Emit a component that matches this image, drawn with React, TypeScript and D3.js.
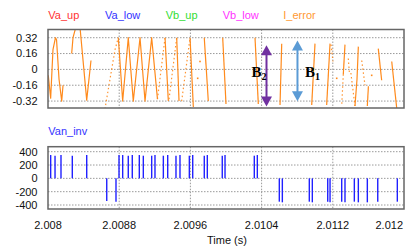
import React from "react";
import * as d3 from "d3";

const legendNames = ["Va_up", "Va_low", "Vb_up", "Vb_low", "I_error"];
const legendColors = ["#ff3333", "#3333ff", "#33dd33", "#ff33ff", "#ff9933"];

const xTicks = [2.008, 2.0088, 2.0096, 2.0104, 2.0112, 2.012];
const xTickLabels = ["2.008", "2.0088", "2.0096", "2.0104", "2.0112", "2.012"];
const topTicks = [0.32, 0.16, 0, -0.16, -0.32];
const topTickLabels = ["0.32", "0.16", "0", "-0.16", "-0.32"];
const botTicks = [400, 200, 0, -200, -400];
const botTickLabels = ["400", "200", "0", "-200", "-400"];

// I_error trace, solid parts: [time, value]
const errSolid: [number, number][][] = [
  [[2.008003, -0.06], [2.00803, -0.29], [2.008056, 0.2], [2.008084, 0.32], [2.008096, 0.3], [2.008124, -0.1], [2.008154, -0.32], [2.008169, -0.16]],
  [[2.008266, 0.16], [2.008281, 0.32], [2.008311, 0.42]],
  [[2.00836, 0.42], [2.008435, -0.31], [2.008483, 0.09]],
  [[2.00879, 0.32], [2.008839, -0.32], [2.008902, 0.32], [2.008958, -0.32], [2.009034, 0.32], [2.00909, -0.32], [2.009165, 0.32], [2.00923, -0.3]],
  [[2.009315, 0.32], [2.009352, -0.32]],
  [[2.009446, 0.32], [2.009472, -0.32]],
  [[2.009596, 0.32], [2.009633, -0.38]],
  [[2.009756, 0.32], [2.009801, -0.32]],
  [[2.009963, 0.32], [2.01, -0.35]],
  [[2.010326, 0.32], [2.010363, -0.35]],
  [[2.010626, 0.26], [2.010607, -0.36]],
  [[2.011, 0.26], [2.010963, -0.36]],
  [[2.011169, 0.26], [2.011131, -0.36]],
  [[2.011337, 0.25], [2.011318, -0.05]],
  [[2.011487, 0.23], [2.011472, -0.1], [2.011449, -0.37]],
  [[2.0116, -0.17], [2.011588, -0.37]],
  [[2.011711, 0.21], [2.011749, -0.11]],
  [[2.011862, 0.08], [2.011918, -0.39]],
];

// I_error trace, dotted parts
const errDotted: [number, number][][] = [
  [[2.00864, -0.4], [2.008753, 0.2], [2.00879, 0.32]],
  [[2.00923, -0.3], [2.009315, 0.32]],
  [[2.00936, -0.3], [2.009446, 0.32]],
  [[2.009502, -0.32], [2.009596, 0.32]],
  [[2.01118, 0.25], [2.011202, 0.08]],
  [[2.011318, -0.05], [2.0113, -0.37]],
  [[2.011374, 0.11], [2.011385, -0.02], [2.011401, -0.02], [2.011449, -0.37]],
  [[2.011525, 0.09], [2.011562, -0.16]],
];

const errDots: [number, number][] = [
  [2.009682, -0.09], [2.009708, 0.08], [2.011244, -0.09], [2.011637, -0.06],
];

// Van_inv pulses
const pulseTimes = [
  2.00803, 2.008079, 2.008146, 2.008273, 2.008435, 2.00866, 2.008764,
  2.008798, 2.008839, 2.008902, 2.008947, 2.009026, 2.009071, 2.009165, 2.009202,
  2.009296, 2.009345, 2.009438, 2.009483, 2.009588, 2.009626, 2.009756, 2.00979,
  2.009958, 2.009989, 2.010318, 2.010352, 2.010599, 2.010633, 2.010936, 2.01097,
  2.011143, 2.011169, 2.0113, 2.011337, 2.011442, 2.011487, 2.011588, 2.011705, 2.011925,
];
const pulseValues = [
  350, 340, 350, 340, 350, -340, -350,
  350, 350, 340, 350, 350, 340, 340, 350,
  340, 350, 340, 350, 340, 350, 340, 350,
  340, 350, 340, 350, -350, -360, -350, -360,
  -350, -360, -350, -360, -350, -360, -360, -350, -350,
];

// Annotations
const arrowNames = ["B", "B"];
const arrowSubs = ["2", "1"];
const arrowTimes = [2.010455, 2.010803];
const arrowFrom = [-0.375, -0.323];
const arrowTo = [0.245, 0.293];
const arrowColors = ["#7030a0", "#5b9bd5"];

const FONT = "'Liberation Sans', Arial, sans-serif";

export default function App() {
  const x = d3.scaleLinear().domain([2.008, 2.012]).range([48, 404]);
  const yT = d3.scaleLinear().domain([-0.39, 0.403]).range([108, 29.5]);
  const yB = d3.scaleLinear().domain([-460, 475]).range([209, 146.7]);
  const lineT = d3.line<[number, number]>().x((d) => x(d[0])).y((d) => yT(d[1]));

  const gridStyle = { stroke: "#9a9a9a", strokeWidth: 1, strokeDasharray: "1.5,1.5" };

  return (
    <svg width={406} height={248} style={{ position: "absolute", left: 0, top: 0, background: "#fff" }} fontFamily={FONT}>
      <defs>
        <clipPath id="clipT">
          <rect x={48} y={29.5} width={356} height={78.5} />
        </clipPath>
      </defs>
      {legendNames.map((n, i) => (
        <text key={n} x={[48.3, 105, 165.7, 222.7, 283.3][i]} y={19} fontSize={11} fill={legendColors[i]}>{n}</text>
      ))}
      {/* top grid */}
      {topTicks.map((t) => (
        <line key={"gt" + t} x1={48} x2={404} y1={yT(t)} y2={yT(t)} {...gridStyle} />
      ))}
      {xTicks.slice(1, -1).map((t) => (
        <line key={"gxt" + t} x1={x(t)} x2={x(t)} y1={29.5} y2={108} {...gridStyle} />
      ))}
      {topTicks.map((t, i) => (
        <text key={"lt" + t} x={37.5} y={yT(t)} dy="0.35em" textAnchor="end" fontSize={11} fill="#111">{topTickLabels[i]}</text>
      ))}
      <g clipPath="url(#clipT)" fill="none" stroke="#ff8a1c" strokeWidth={1.2} strokeLinejoin="round">
        {errSolid.map((s, i) => (
          <path key={"s" + i} d={lineT(s) || ""} />
        ))}
        {errDotted.map((s, i) => (
          <path key={"d" + i} d={lineT(s) || ""} strokeDasharray="1.5,2.5" opacity={0.9} />
        ))}
        {errDots.map((p, i) => (
          <rect key={"p" + i} x={x(p[0]) - 0.8} y={yT(p[1]) - 0.8} width={1.6} height={1.6} fill="#ff8a1c" stroke="none" />
        ))}
      </g>
      {/* arrows */}
      {arrowTimes.map((t, i) => {
        const ax = x(t);
        const y1 = yT(arrowFrom[i]);
        const y2 = yT(arrowTo[i]);
        const c = arrowColors[i];
        return (
          <g key={"a" + i}>
            <line x1={ax} x2={ax} y1={y2 + 8} y2={y1 - 8} stroke={c} strokeWidth={2} />
            <polygon points={`${ax},${y2} ${ax - 5.5},${y2 + 10} ${ax + 5.5},${y2 + 10}`} fill={c} />
            <polygon points={`${ax},${y1} ${ax - 5.5},${y1 - 10} ${ax + 5.5},${y1 - 10}`} fill={c} />
          </g>
        );
      })}
      <text x={x(arrowTimes[0]) - 15} y={76.5} fontSize={15} fontWeight="bold" fontFamily="'Liberation Serif', 'Times New Roman', serif" fill="#000">
        {arrowNames[0]}<tspan fontSize={10} dy={3}>{arrowSubs[0]}</tspan>
      </text>
      <text x={x(arrowTimes[1]) + 7.5} y={76.5} fontSize={15} fontWeight="bold" fontFamily="'Liberation Serif', 'Times New Roman', serif" fill="#000">
        {arrowNames[1]}<tspan fontSize={10} dy={3}>{arrowSubs[1]}</tspan>
      </text>
      <rect x={48} y={29.5} width={356} height={78.5} fill="none" stroke="#666" strokeWidth={1.5} />

      {/* bottom panel */}
      <text x={48.3} y={135} fontSize={11} fill="#3333ff">Van_inv</text>
      {botTicks.map((t) => (
        <line key={"gb" + t} x1={48} x2={404} y1={yB(t)} y2={yB(t)} {...gridStyle} />
      ))}
      {xTicks.slice(1, -1).map((t) => (
        <line key={"gxb" + t} x1={x(t)} x2={x(t)} y1={146.7} y2={209} {...gridStyle} />
      ))}
      {botTicks.map((t, i) => (
        <text key={"lb" + t} x={37.5} y={yB(t)} dy="0.35em" textAnchor="end" fontSize={11} fill="#111">{botTickLabels[i]}</text>
      ))}
      <g stroke="#2020ff" strokeWidth={1.4}>
        {pulseTimes.map((t, i) => (
          <line key={"pl" + i} x1={x(t)} x2={x(t)} y1={yB(0)} y2={yB(pulseValues[i])} />
        ))}
      </g>
      <rect x={48} y={146.7} width={356} height={62.3} fill="none" stroke="#666" strokeWidth={1.5} />
      {xTicks.map((t, i) => {
        const last = i === xTicks.length - 1;
        return (
          <text key={"xl" + t} x={last ? 403 : x(t)} y={228.5} textAnchor={last ? "end" : "middle"} fontSize={11} fill="#111">{xTickLabels[i]}</text>
        );
      })}
      <text x={227} y={244} textAnchor="middle" fontSize={11} fill="#111">Time (s)</text>
    </svg>
  );
}
